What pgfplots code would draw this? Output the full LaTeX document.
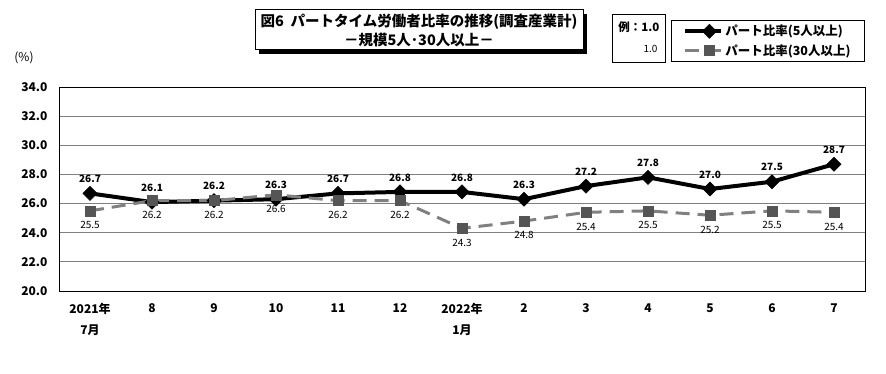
\documentclass[border=0pt]{standalone}
\usepackage{fontspec}
\setmainfont{Noto Sans CJK JP}
\usepackage{pgfplots}
\pgfplotsset{compat=1.18}
\definecolor{sgray}{HTML}{808080}
\definecolor{mgray}{HTML}{555555}
\begin{document}
\begin{tikzpicture}[x=1pt,y=1pt]
\path[use as bounding box] (0pt,0pt) rectangle (886pt,373pt);
% title box with shadow
\fill[black] (259pt,319pt) rectangle (587pt,359pt);
\draw[fill=white, line width=1pt] (255pt,323pt) rectangle (583pt,363pt);
\node[align=center, font=\bfseries\fontsize{14.5}{19}\selectfont] at (419pt,343pt) {図6\ \ パートタイム労働者比率の推移(調査産業計)\\－規模5人･30人以上－};
% example box
\draw[line width=0.8pt] (612pt,311pt) rectangle (665pt,359pt);
\node[anchor=east, font=\bfseries\fontsize{11.5}{13}\selectfont] at (663pt,346pt) {例：1.0};
\node[anchor=east, font=\fontsize{10}{12}\selectfont] at (661pt,324pt) {1.0};
% (%)
\node[font=\fontsize{12}{14}\selectfont] at (24pt,315pt) {(\%)};
\begin{axis}[
  at={(59pt,82pt)}, anchor=south west,
  width=806pt, height=204pt, scale only axis,
  xmin=-0.5, xmax=12.5, ymin=20, ymax=34,
  ytick={20,22,...,34},
  ymajorgrids, grid style={sgray, line width=1pt},
  major tick length=0pt,
  axis line style={black, line width=1pt},
  xtick={0,...,12},
  xticklabels={{2021年\\7月},8,9,10,11,12,{2022年\\1月},2,3,4,5,6,7},
  xticklabel style={align=center, anchor=north, yshift=-9pt, font=\bfseries\fontsize{12}{21}\selectfont},
  yticklabel style={font=\bfseries\fontsize{12}{14}\selectfont, xshift=-8pt, /pgf/number format/.cd, fixed, fixed zerofill, precision=1},
  /pgf/number format/assume math mode=true,
  legend style={at={(1,1)}, anchor=south east, yshift=25pt, draw=black, line width=0.8pt,
     font=\bfseries\fontsize{12.5}{14}\selectfont, row sep=3pt, inner xsep=12pt, inner ysep=3pt},
  legend cell align=left,
  legend image code/.code={\draw[mark repeat=2,mark phase=2] plot coordinates {(0pt,0pt) (24pt,0pt) (36pt,0pt)};},
]
\addplot[black, line width=4pt, mark=square*, mark size=5pt, mark options={rotate=45, solid, fill=black, line width=0.5pt},
  nodes near coords={\pgfmathprintnumber[fixed,fixed zerofill,precision=1]{\pgfplotspointmeta}},
  every node near coord/.append style={anchor=south, yshift=7pt, font=\bfseries\fontsize{10}{12}\selectfont, black}]
coordinates {(0,26.7)(1,26.1)(2,26.2)(3,26.3)(4,26.7)(5,26.8)(6,26.8)(7,26.3)(8,27.2)(9,27.8)(10,27.0)(11,27.5)(12,28.7)};
\addlegendentry{パート比率(5人以上)}
\addplot[sgray, line width=3pt, dash pattern=on 14pt off 8pt, mark=square*, mark size=5pt, mark options={solid, fill=mgray, draw=mgray, line width=0.5pt},
  nodes near coords={\pgfmathprintnumber[fixed,fixed zerofill,precision=1]{\pgfplotspointmeta}},
  every node near coord/.append style={anchor=north, yshift=-7pt, font=\fontsize{10}{12}\selectfont, black}]
coordinates {(0,25.5)(1,26.2)(2,26.2)(3,26.6)(4,26.2)(5,26.2)(6,24.3)(7,24.8)(8,25.4)(9,25.5)(10,25.2)(11,25.5)(12,25.4)};
\addlegendentry{パート比率(30人以上)}
\end{axis}
\end{tikzpicture}
\end{document}
